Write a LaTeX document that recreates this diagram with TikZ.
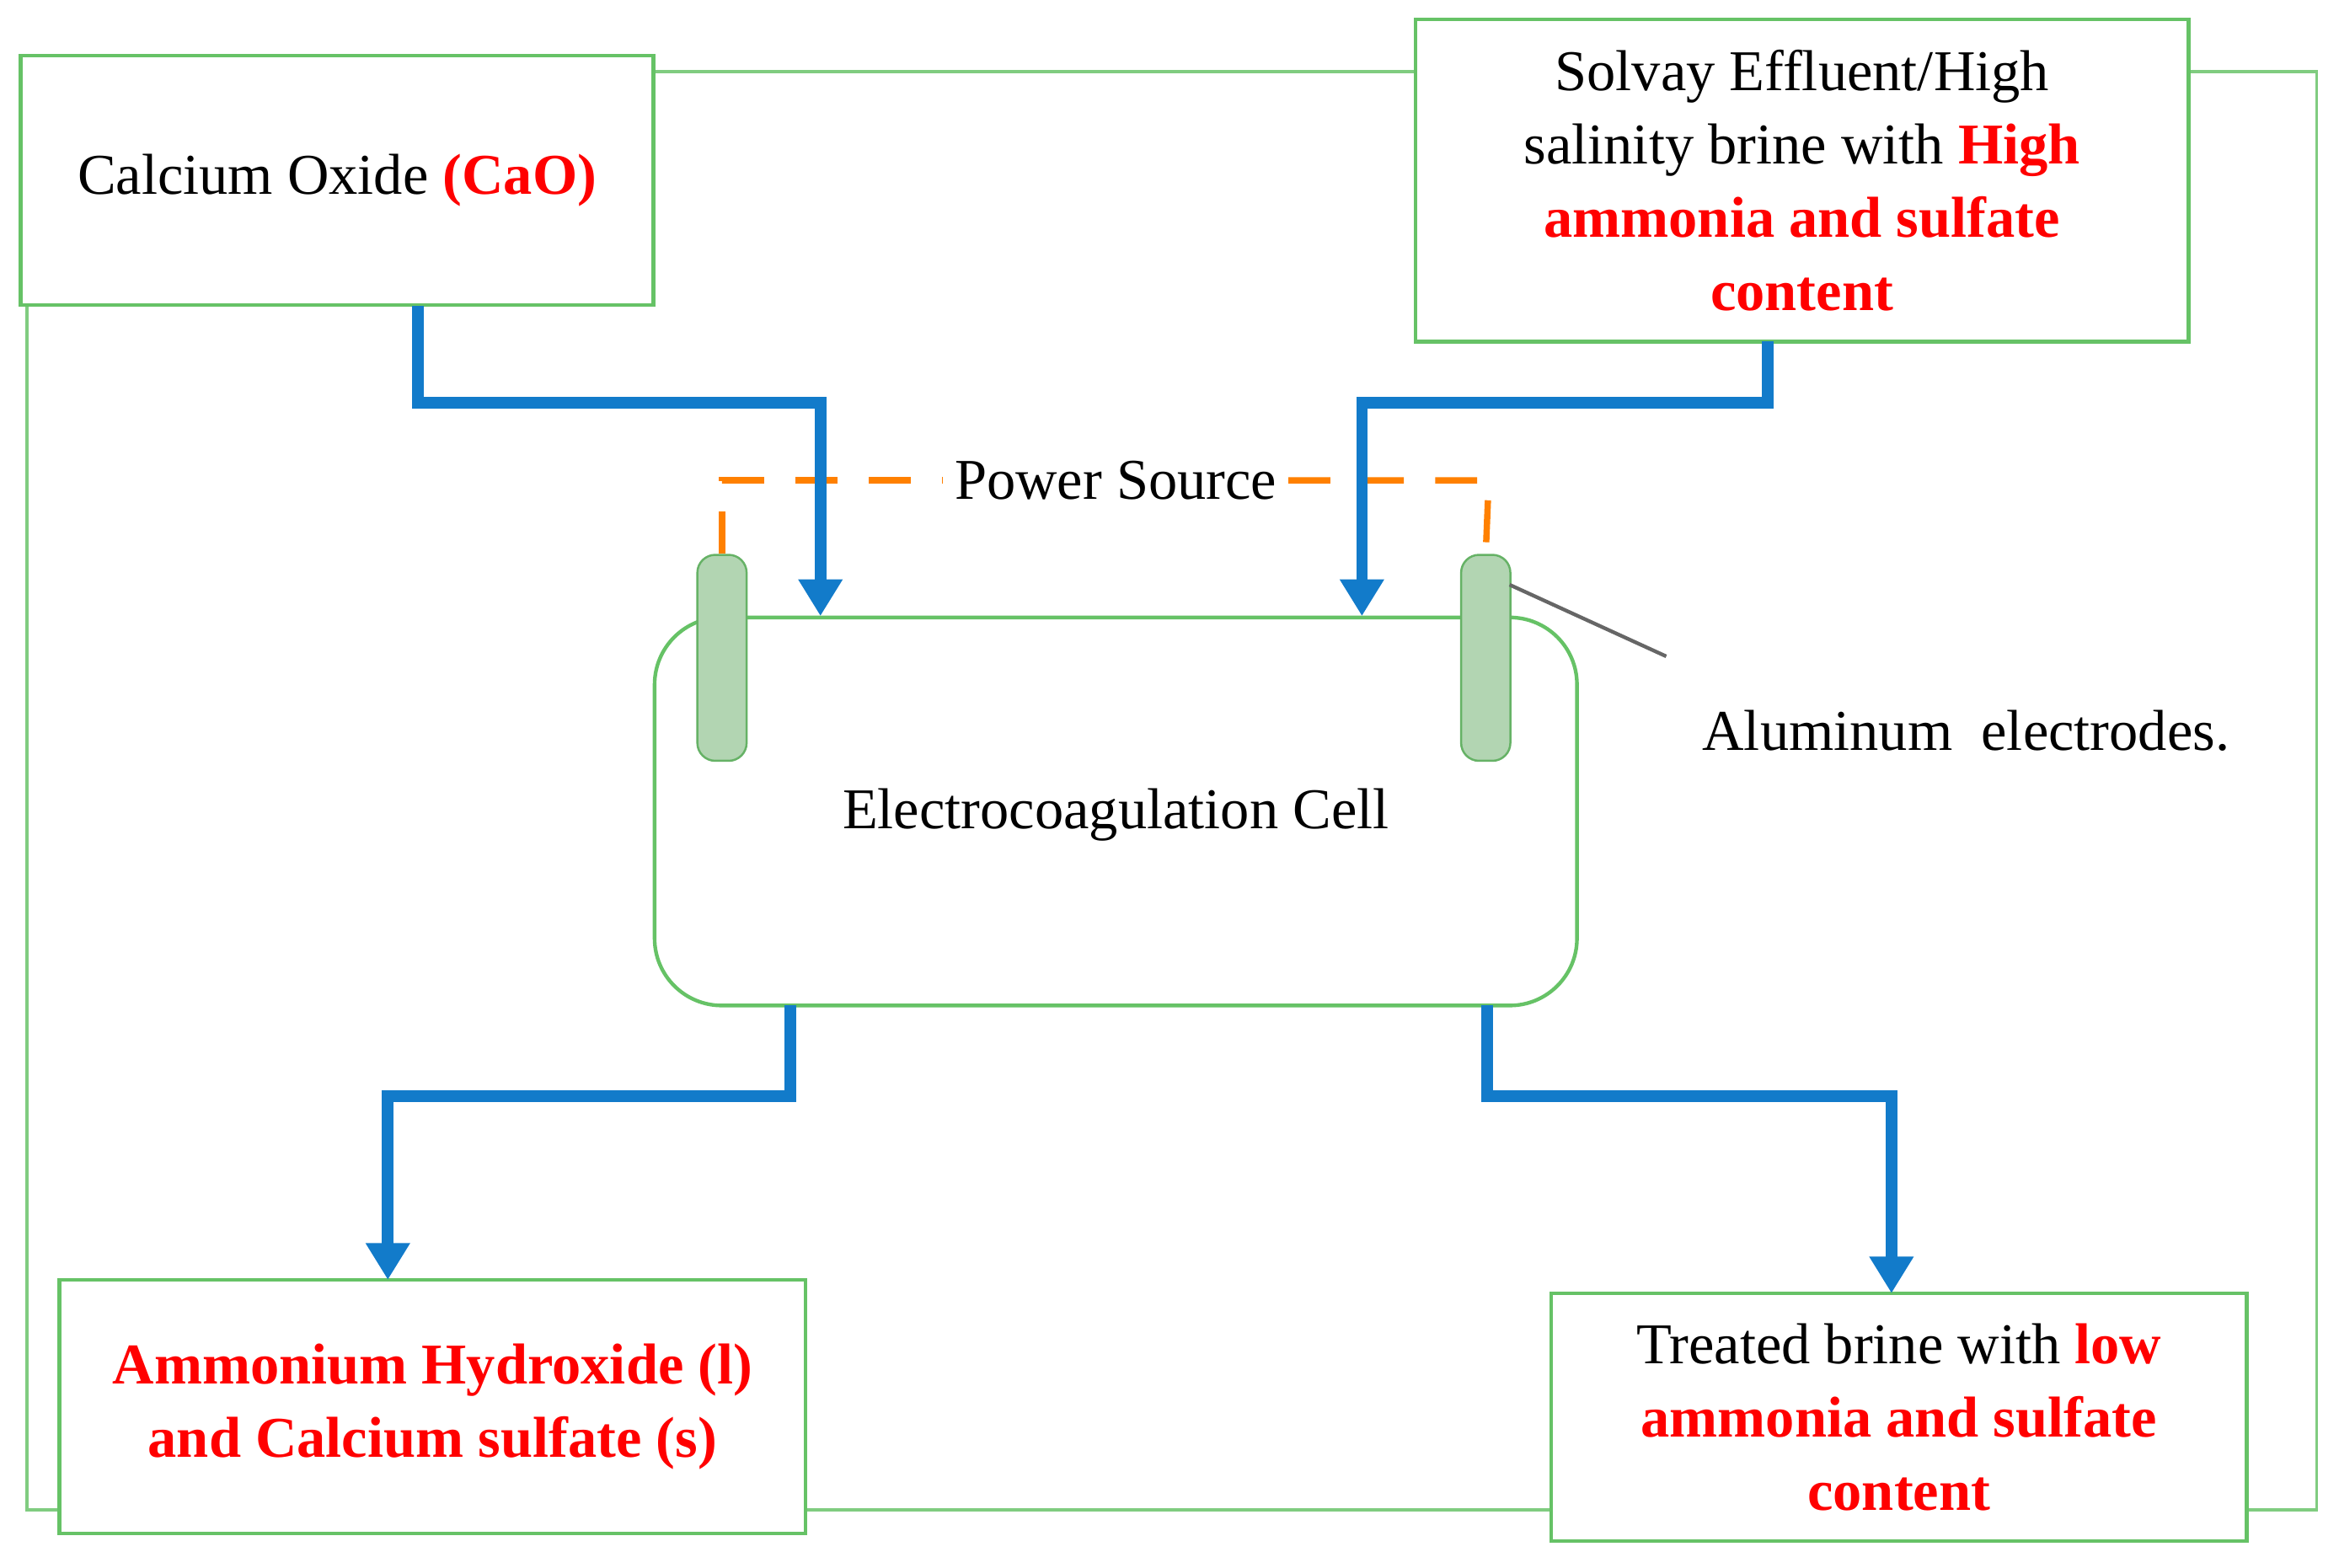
\documentclass[tikz,border=0pt]{standalone}
\usepackage{fontspec}
\setmainfont{Liberation Serif}
\usetikzlibrary{arrows.meta}
\newcommand{\hl}[1]{\textcolor{red}{\textbf{#1}}}
\begin{document}
\begin{tikzpicture}[x=0.01cm,y=-0.01cm,
  box/.style={draw=green!60!black!60, fill=white, line width=0.7pt, align=center, font=\fontsize{11}{14}\selectfont},
  flow/.style={draw=cyan!60!blue, line width=2.2pt, -{Triangle[length=7pt,width=8pt]}},
  pipe/.style={draw=cyan!60!blue, line width=2.2pt}]
\useasboundingbox (0,0) rectangle (1568,1051);

% Marco exterior
\draw[green!60!black!50, line width=0.6pt] (18,48) rectangle (1553,1012);

% Cajas
\node[box, minimum width=4.24cm, minimum height=1.67cm] at (226,121) (CaO) {Calcium Oxide \hl{(CaO)}};
\node[box, minimum width=5.18cm, minimum height=2.16cm] at (1208,121) (Solvay)
{Solvay Effluent/High\\ salinity brine with \hl{High}\\ \hl{ammonia and sulfate}\\ \hl{content}};
\node[box, minimum width=5.0cm, minimum height=1.7cm] at (290,943) (Ammon)
{\hl{Ammonium Hydroxide (l)}\\ \hl{and Calcium sulfate (s)}};
\node[box, minimum width=4.66cm, minimum height=1.66cm] at (1273,950) (Treated)
{Treated brine with \hl{low}\\ \hl{ammonia and sulfate}\\ \hl{content}};

% Celda
\node[box, rounded corners=0.45cm, minimum width=6.18cm, minimum height=2.6cm] at (748,544) (Cell) {};
\node[font=\fontsize{11}{14}\selectfont] at (748,546) (CellTxt) {Electrocoagulation Cell};

% Fuente de poder
\node[font=\fontsize{11}{14}\selectfont, fill=white, inner sep=2pt] at (748,322) (Power) {Power Source};
\coordinate (L) at (484,322);
\coordinate (R) at (998,322);

% Electrodos
\node[draw=green!50!black!60, fill=green!45!black!30, rounded corners=0.12cm, minimum width=0.33cm, minimum height=1.38cm] at (484,441) (E1) {};
\node[draw=green!50!black!60, fill=green!45!black!30, rounded corners=0.12cm, minimum width=0.33cm, minimum height=1.38cm] at (996,441) (E2) {};
\draw[orange, line width=1.2pt, dash pattern=on 8pt off 6pt] (E1.north) -- (L) -- (Power.west);
\draw[orange, line width=1.2pt, dash pattern=on 8pt off 6pt] (Power.east) -- (R) -- (E2.north);

\node[font=\fontsize{11}{14}\selectfont] at (1318,490) (AlTxt) {Aluminum\ \ electrodes.};
\coordinate (AlEnd) at (1117,440);
\draw[gray!80!black, line width=0.7pt] (1012,392) -- (AlEnd);

% Flujos
\draw[flow] (280,205) |- (550,270) -- (550,413);
\draw[flow] (1185,229) |- (913,270) -- (913,413);
\draw[flow] (530,674) |- (260,735) -- (260,858);
\draw[flow] (997,674) |- (1268,735) -- (1268,867);
\end{tikzpicture}
\end{document}
